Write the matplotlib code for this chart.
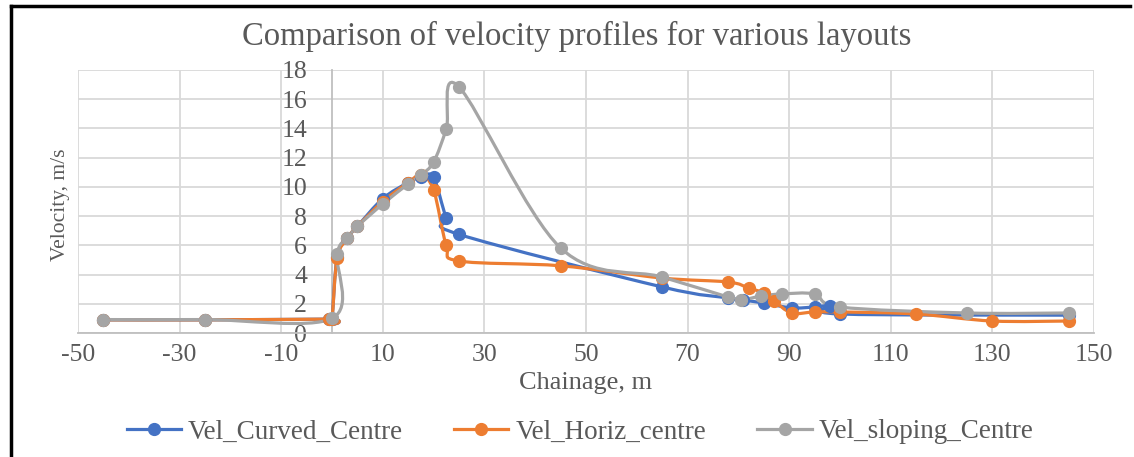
import numpy as np
import matplotlib.pyplot as plt
from matplotlib.path import Path
from matplotlib.patches import PathPatch
from matplotlib.lines import Line2D

# chainage (m) and velocity (m/s) for each layout
curved_x = [-45, -25, -0.5, 0, 1, 3, 5, 10, 15, 17.5, 20, 22.5, 25, 65, 78, 81, 85, 90.5, 95, 98, 100, 145]
curved_v = [0.9, 0.9, 0.95, 0.95, 5.2, 6.5, 7.3, 9.2, 10.3, 10.7, 10.65, 7.9, 6.75, 3.15, 2.4, 2.25, 2.05, 1.72, 1.78, 1.85, 1.3, 1.22]

horiz_x = [-45, -25, -0.5, 0, 1, 3, 5, 10, 15, 17.5, 20, 22.5, 25, 45, 65, 78, 82, 85, 87, 90.5, 95, 100, 115, 130, 145]
horiz_v = [0.9, 0.9, 0.95, 0.95, 5.1, 6.5, 7.3, 9.0, 10.3, 10.8, 9.8, 6.0, 4.93, 4.6, 3.76, 3.49, 3.08, 2.74, 2.2, 1.37, 1.44, 1.44, 1.3, 0.82, 0.82]

sloping_x = [-45, -25, 0, 1, 3, 5, 10, 15, 17.5, 20, 22.5, 25, 45, 65, 78, 80.5, 84.5, 88.5, 95, 100, 125, 145]
sloping_v = [0.92, 0.92, 1.0, 5.4, 6.5, 7.3, 8.83, 10.2, 10.8, 11.7, 13.96, 16.84, 5.82, 3.83, 2.46, 2.26, 2.53, 2.67, 2.67, 1.78, 1.37, 1.37]

series = [
    ("Vel_Curved_Centre", curved_x, curved_v, "#4472C4"),
    ("Vel_Horiz_centre", horiz_x, horiz_v, "#ED7D31"),
    ("Vel_sloping_Centre", sloping_x, sloping_v, "#A5A5A5"),
]

TXT = "#595959"
plt.rcParams['font.family'] = ['Liberation Serif', 'DejaVu Serif']
plt.rcParams['axes.unicode_minus'] = False


def smooth_path(x, y):
    # spreadsheet-style smoothed line: cubic bezier through every point
    p = np.column_stack([x, y]).astype(float)
    n = len(p)
    verts = [p[0]]
    codes = [Path.MOVETO]
    for i in range(n - 1):
        p0 = p[max(i - 1, 0)]
        p3 = p[min(i + 2, n - 1)]
        c1 = p[i] + (p[i + 1] - p0) / 6.0
        c2 = p[i + 1] - (p3 - p[i]) / 6.0
        verts += [c1, c2, p[i + 1]]
        codes += [Path.CURVE4] * 3
    return Path(verts, codes)


fig = plt.figure(figsize=(11.34, 4.57), dpi=100)
ax = fig.add_axes([78 / 1134, 1 - 333 / 457, (1094 - 78) / 1134, (333 - 70) / 457])

handles = []
for name, x, v, col in series:
    ax.add_patch(PathPatch(smooth_path(x, v), fill=False, edgecolor=col,
                           lw=2.3, capstyle='round', joinstyle='round', zorder=3))
    ax.plot(x, v, 'o', color=col, ms=8.5, zorder=4)
    handles.append(Line2D([], [], color=col, lw=2.3, marker='o', ms=8.5))

ax.set_xlim(-50, 150)
ax.set_ylim(0, 18)
ax.set_xticks(np.arange(-50, 151, 20))
ax.set_yticks(np.arange(0, 19, 2))
ax.grid(True, color="#D9D9D9", lw=1.3)
ax.set_axisbelow(True)

for s in ['top', 'right']:
    ax.spines[s].set_visible(False)
ax.spines['left'].set_position(('data', 0))
ax.spines['left'].set_color("#BFBFBF")
ax.spines['bottom'].set_color("#BFBFBF")
ax.spines['left'].set_linewidth(1.3)
ax.spines['bottom'].set_linewidth(1.3)
ax.tick_params(length=0, colors=TXT, labelsize=18.5)
ax.tick_params(axis='x', pad=8)
ax.tick_params(axis='y', pad=18)

fig.text(586 / 1134, 1 - 383 / 457, "Chainage, m", fontsize=19, color=TXT,
         ha='center', va='center')
fig.text(60 / 1134, 1 - 205 / 457, "Velocity, m/s", rotation=90, fontsize=15.5,
         color=TXT, ha='center', va='center')
fig.text(577 / 1134, 1 - 36 / 457, "Comparison of velocity profiles for various layouts",
         fontsize=23.5, color=TXT, ha='center', va='center')

fig.legend(handles=handles, labels=[s[0] for s in series],
           loc='center', bbox_to_anchor=(580 / 1134, 1 - 432 / 457), ncol=3,
           frameon=False, fontsize=19.5, labelcolor=TXT, handlelength=2.0,
           columnspacing=1.9, handletextpad=0.25)

# outer frame (left and top edges visible)
fig.add_artist(Line2D([11 / 1134, 11 / 1134], [0, 1 - 6 / 457], color='black', lw=2.5,
                      transform=fig.transFigure))
fig.add_artist(Line2D([11 / 1134, 1130 / 1134], [1 - 6 / 457, 1 - 6 / 457], color='black', lw=2.5,
                      transform=fig.transFigure))

fig.savefig("out.png", dpi=100)
